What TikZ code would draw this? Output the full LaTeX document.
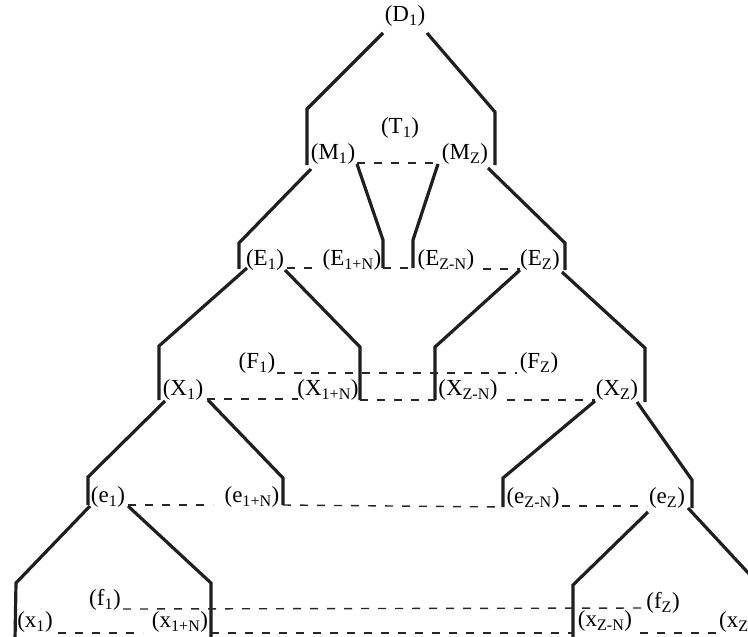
\documentclass[tikz,border=0pt]{standalone}
\usepackage{fontspec}
\setmainfont{Liberation Serif}
\newcommand{\lsub}[1]{\textsubscript{#1}}
\tikzset{
  lbl/.style={inner sep=0pt, font=\fontsize{23}{26}\selectfont},
  branch/.style={line width=3.2pt, draw=black!88, line join=miter},
  link/.style={line width=1.4pt, draw=black!85, dash pattern=on 8pt off 9pt},
}
\begin{document}
\begin{tikzpicture}[x=1pt,y=-1pt]
\useasboundingbox (0,0) rectangle (748,637);
% labels
\node[lbl] (D) at (405,16) {(D\lsub{1})};
\node[lbl] (T) at (400,128) {(T\lsub{1})};
\node[lbl] (M1) at (333,154) {(M\lsub{1})};
\node[lbl] (MZ) at (465,154) {(M\lsub{Z})};
\node[lbl] (E1) at (265,260) {(E\lsub{1})};
\node[lbl] (E1N) at (352,260) {(E\lsub{1+N})};
\node[lbl] (EZN) at (446,260) {(E\lsub{Z-N})};
\node[lbl] (EZ) at (540,260) {(E\lsub{Z})};
\node[lbl] (F1) at (257,363) {(F\lsub{1})};
\node[lbl] (FZ) at (539,363) {(F\lsub{Z})};
\node[lbl] (X1) at (183,390) {(X\lsub{1})};
\node[lbl] (X1N) at (328,390) {(X\lsub{1+N})};
\node[lbl] (XZN) at (468,390) {(X\lsub{Z-N})};
\node[lbl] (XZ) at (617,390) {(X\lsub{Z})};
\node[lbl] (e1) at (108,497) {(e\lsub{1})};
\node[lbl] (e1N) at (252,497) {(e\lsub{1+N})};
\node[lbl] (eZN) at (533,498) {(e\lsub{Z-N})};
\node[lbl] (eZ) at (667,498) {(e\lsub{Z})};
\node[lbl] (f1) at (105,600) {(f\lsub{1})};
\node[lbl] (fZ) at (663,603) {(f\lsub{Z})};
\node[lbl] (x1) at (35,622) {(x\lsub{1})};
\node[lbl] (x1N) at (180,622) {(x\lsub{1+N})};
\node[lbl] (xZN) at (605,621) {(x\lsub{Z-N})};
\node[lbl, anchor=west] (xZ) at (719,622) {(x\lsub{Z}};
% branch coordinates
\coordinate (d1) at (383,33);  \coordinate (d1b) at (307,109); \coordinate (d1e) at (307,165);
\coordinate (d2) at (427,33);  \coordinate (d2b) at (495,112); \coordinate (d2e) at (495,165);
\coordinate (m1) at (311,169); \coordinate (m1b) at (239,243); \coordinate (m1e) at (239,269);
\coordinate (t1) at (357,164); \coordinate (t1b) at (383,240); \coordinate (t1e) at (383,268);
\coordinate (t2) at (438,164); \coordinate (t2b) at (413,240); \coordinate (t2e) at (413,268);
\coordinate (mz) at (488,168); \coordinate (mzb) at (565,243); \coordinate (mze) at (565,270);
\coordinate (a1) at (247,268); \coordinate (a1b) at (159,346); \coordinate (a1e) at (159,400);
\coordinate (a2) at (285,270); \coordinate (a2b) at (360,347); \coordinate (a2e) at (360,400);
\coordinate (a3) at (520,270); \coordinate (a3b) at (435,347); \coordinate (a3e) at (435,400);
\coordinate (a4) at (562,272); \coordinate (a4b) at (645,348); \coordinate (a4e) at (645,402);
\coordinate (b1) at (165,401); \coordinate (b1b) at (88,477);  \coordinate (b1e) at (88,505);
\coordinate (b2) at (208,400); \coordinate (b2b) at (283,478); \coordinate (b2e) at (283,505);
\coordinate (b3) at (595,401); \coordinate (b3b) at (503,478); \coordinate (b3e) at (503,507);
\coordinate (b4) at (637,402); \coordinate (b4b) at (692,480); \coordinate (b4e) at (692,508);
\coordinate (c1) at (90,506);  \coordinate (c1b) at (16,583);  \coordinate (c1e) at (15,640);
\coordinate (c2) at (128,506); \coordinate (c2b) at (211,583); \coordinate (c2e) at (211,640);
\coordinate (c3) at (648,512); \coordinate (c3b) at (573,585); \coordinate (c3e) at (573,640);
\coordinate (c4) at (688,508); \coordinate (c4e) at (752,577);
% branches
\draw[branch] (d1) -- (d1b) -- (d1e);
\draw[branch] (d2) -- (d2b) -- (d2e);
\draw[branch] (m1) -- (m1b) -- (m1e);
\draw[branch] (t1) -- (t1b) -- (t1e);
\draw[branch] (t2) -- (t2b) -- (t2e);
\draw[branch] (mz) -- (mzb) -- (mze);
\draw[branch] (a1) -- (a1b) -- (a1e);
\draw[branch] (a2) -- (a2b) -- (a2e);
\draw[branch] (a3) -- (a3b) -- (a3e);
\draw[branch] (a4) -- (a4b) -- (a4e);
\draw[branch] (b1) -- (b1b) -- (b1e);
\draw[branch] (b2) -- (b2b) -- (b2e);
\draw[branch] (b3) -- (b3b) -- (b3e);
\draw[branch] (b4) -- (b4b) -- (b4e);
\draw[branch] (c1) -- (c1b) -- (c1e);
\draw[branch] (c2) -- (c2b) -- (c2e);
\draw[branch] (c3) -- (c3b) -- (c3e);
\draw[branch] (c4) -- (c4e);
% dashed links
\coordinate (lm1) at (357,163); \coordinate (lmz) at (440,163);
\draw[link] (lm1) -- (lmz);
\coordinate (le1) at (287,268); \coordinate (le1n) at (318,268);
\draw[link] (le1) -- (le1n);
\draw[link] (t1e) -- (t2e);
\coordinate (lezn) at (483,269); \coordinate (lez) at (520,269);
\draw[link] (lezn) -- (lez);
\coordinate (lf1) at (277,373); \coordinate (lfz) at (517,373);
\draw[link] (lf1) -- (lfz);
\coordinate (lx1) at (207,399); \coordinate (lx1n) at (298,399);
\draw[link] (lx1) -- (lx1n);
\draw[link] (a2e) -- (a3e);
\coordinate (lxzn) at (507,400); \coordinate (lxz) at (595,400);
\draw[link] (lxzn) -- (lxz);
\coordinate (le1a) at (128,505); \coordinate (le1b) at (213,505);
\draw[link] (le1a) -- (le1b);
\draw[link] (b2e) -- (b3e);
\coordinate (lezna) at (562,506); \coordinate (lezb) at (647,506);
\draw[link] (lezna) -- (lezb);
\coordinate (lf1a) at (123,609); \coordinate (lfza) at (647,608);
\draw[link] (lf1a) -- (lfza);
\coordinate (lx1a) at (58,633); \coordinate (lx1b) at (143,633);
\draw[link] (lx1a) -- (lx1b);
\coordinate (lx1c) at (211,633); \coordinate (lxzc) at (573,633);
\draw[link] (lx1c) -- (lxzc);
\coordinate (lxza) at (640,633); \coordinate (lxzb) at (718,633);
\draw[link] (lxza) -- (lxzb);
\end{tikzpicture}
\end{document}
